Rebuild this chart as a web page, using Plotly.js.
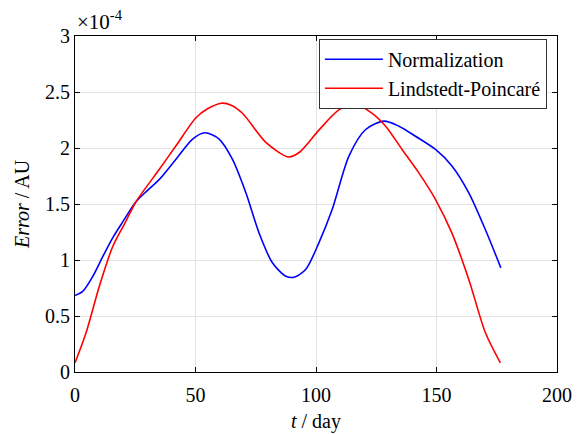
<!DOCTYPE html>
<html><head><meta charset="utf-8">
<script src="https://cdn.plot.ly/plotly-3.0.1.min.js"></script>
<style>html,body{margin:0;padding:0;background:#fff}#chart{width:585px;height:434px}</style>
</head><body><div id="chart"></div>
<script>
// values in units of 1e-4 AU
const tNorm = [0, 3.2, 7.4, 11.5, 15.7, 19.8, 25.3, 30, 35, 41.9, 48.8, 53.9, 59.8, 65.3, 70.9, 76.4, 81.9, 87.5, 90.9, 95.7, 101.2, 106.7, 113.7, 120.6, 128.2, 134.4, 141.3, 149.6, 156.4, 163.4, 170.3, 176.7];
const errNorm = [0.683, 0.72, 0.855, 1.03, 1.20, 1.34, 1.52, 1.62, 1.72, 1.90, 2.08, 2.136, 2.08, 1.90, 1.60, 1.24, 0.975, 0.855, 0.846, 0.915, 1.153, 1.45, 1.93, 2.165, 2.24, 2.195, 2.105, 1.987, 1.84, 1.60, 1.27, 0.93];
const tLP = [0, 4.6, 10.1, 15.7, 21.2, 25.3, 35, 41.9, 50.2, 55, 60.8, 65, 69.5, 79.2, 88.5, 93, 101.2, 109.5, 116.1, 123.3, 128.9, 135.7, 142.6, 149.6, 156.4, 163.4, 170.3, 176.5];
const errLP = [0.082, 0.35, 0.766, 1.123, 1.35, 1.52, 1.81, 2.02, 2.27, 2.35, 2.40, 2.38, 2.31, 2.05, 1.92, 1.96, 2.16, 2.34, 2.39, 2.31, 2.195, 1.987, 1.78, 1.54, 1.24, 0.826, 0.35, 0.082];
const seriesNames = ['Normalization', 'Lindstedt-Poincaré'];
const xTicks = [0, 50, 100, 150, 200];
const yTicks = [0, 0.5, 1, 1.5, 2, 2.5, 3];

const font = 'Liberation Serif';
const fs = 20;
const traces = [
  {x: tNorm, y: errNorm, name: seriesNames[0], mode: 'lines', line: {color: '#0000ff', width: 1.6, shape: 'spline', smoothing: 0.8}},
  {x: tLP, y: errLP, name: seriesNames[1], mode: 'lines', line: {color: '#ff0000', width: 1.6, shape: 'spline', smoothing: 0.8}}
];
const axisCommon = {
  showline: true, linecolor: '#000', linewidth: 1, mirror: 'ticks',
  ticks: 'inside', ticklen: 5, tickcolor: '#000', tickwidth: 1,
  showgrid: true, gridcolor: '#e3e3e3', gridwidth: 1, zeroline: false,
  tickfont: {family: font, size: fs, color: '#000'}
};
const layout = {
  width: 585, height: 434,
  margin: {l: 75, r: 28, t: 36, b: 62},
  paper_bgcolor: '#fff', plot_bgcolor: '#fff',
  font: {family: font, size: fs, color: '#000'},
  showlegend: true,
  legend: {x: 0.979, y: 0.992, xanchor: 'right', yanchor: 'top', bgcolor: '#fff', bordercolor: '#333', borderwidth: 1,
           font: {family: font, size: 20, color: '#000'}, tracegroupgap: 0, itemwidth: 58},
  xaxis: Object.assign({}, axisCommon, {range: [0, 200], tickvals: xTicks, ticktext: xTicks.map(String), ticklabelstandoff: 5,
     title: {text: '<i>t</i> / day', font: {family: font, size: fs, color: '#000'}, standoff: 8}}),
  yaxis: Object.assign({}, axisCommon, {range: [0, 3], tickvals: yTicks, ticktext: yTicks.map(String),
     title: {text: '<i>Error</i> / AU', font: {family: font, size: fs, color: '#000'}, standoff: 10}}),
  annotations: [{xref: 'paper', yref: 'paper', x: 0, y: 1, xanchor: 'left', yanchor: 'bottom', xshift: 0, yshift: 0,
     showarrow: false, text: '×10<sup>-4</sup>', font: {family: font, size: 21, color: '#000'}}]
};
Plotly.newPlot('chart', traces, layout, {displayModeBar: false, staticPlot: true});
</script></body></html>
